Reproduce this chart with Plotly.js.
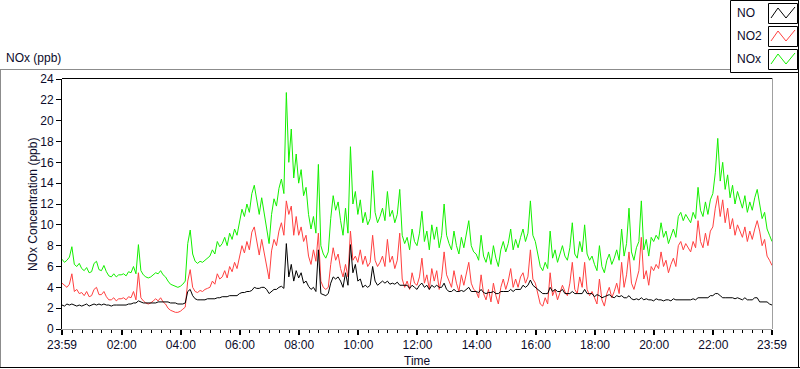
<!DOCTYPE html>
<html>
<head>
<meta charset="utf-8">
<script src="https://cdn.plot.ly/plotly-3.0.1.min.js"></script>
<style>
html,body{margin:0;padding:0;background:#fff;}
#chart{width:800px;height:369px;}
</style>
</head>
<body>
<div id="chart"></div>
<script>
// ---- data (5-minute readings from 23:59 to 23:59 next day) ----
const startTime = '2024-01-01T23:59:00';
const stepMinutes = 5;

const noxValues = [
 6.7, 6.4, 6.6, 6.9, 7.9, 6.2, 6.0, 6.3, 5.8, 5.6, 5.9, 5.4,
 5.5, 6.3, 6.5, 5.7, 5.6, 6.1, 5.5, 5.1, 5.0, 5.3, 5.0, 5.2,
 5.2, 5.3, 5.1, 5.5, 5.4, 6.0, 5.3, 8.1, 5.6, 5.2, 5.0, 4.9,
 5.0, 5.2, 5.4, 5.3, 5.6, 5.2, 5.0, 4.6, 4.3, 4.2, 4.1, 4.0,
 4.1, 4.3, 4.6, 8.2, 9.5, 7.2, 6.5, 6.3, 6.5, 6.4, 6.6, 6.8,
 7.0, 7.6, 7.2, 8.4, 7.9, 8.2, 8.8, 8.0, 9.2, 8.6, 9.6, 9.0,
 10.4, 11.5, 10.8, 12.0, 11.2, 13.0, 13.8, 12.4, 11.0, 12.6, 11.2, 9.6,
 8.2, 11.0, 12.5, 11.8, 13.5, 14.4, 13.0, 22.7, 16.0, 19.2, 14.5, 16.8,
 14.0, 15.3, 12.8, 13.6, 11.0, 9.6, 10.8, 9.2, 15.8, 8.0, 7.2, 6.8,
 7.4, 10.6, 12.8, 11.4, 12.2, 10.4, 9.0, 11.6, 9.2, 17.5, 12.0, 13.2,
 11.0, 12.4, 10.2, 11.2, 10.0, 10.6, 15.2, 11.2, 10.2, 10.8, 11.6, 10.4,
 13.2, 10.8, 11.4, 10.2, 11.0, 13.4, 9.0, 8.2, 8.8, 7.6, 9.6, 8.4,
 8.0, 9.2, 11.3, 8.4, 9.4, 7.6, 10.0, 8.6, 9.8, 7.8, 9.0, 12.0,
 9.0, 8.2, 7.6, 9.4, 8.0, 7.2, 8.8, 7.8, 9.2, 10.4, 8.0, 7.4,
 7.2, 6.6, 9.0, 7.0, 6.4, 7.4, 6.2, 8.0, 6.8, 6.0, 7.6, 8.4,
 7.4, 8.2, 9.6, 7.6, 8.6, 7.8, 8.8, 9.6, 8.4, 9.2, 12.3, 9.0,
 8.4, 7.2, 6.0, 5.6, 6.4, 5.8, 9.4, 6.8, 7.6, 6.4, 7.2, 8.0,
 7.0, 6.6, 7.8, 10.2, 7.2, 6.8, 8.4, 7.4, 10.0, 7.2, 6.6, 7.0,
 6.2, 5.6, 8.0, 6.0, 5.4, 6.6, 7.2, 6.2, 6.8, 7.6, 6.6, 9.6,
 7.0, 8.2, 11.6, 7.4, 6.6, 7.8, 8.4, 12.3, 7.6, 8.6, 7.0, 8.8,
 8.4, 9.0, 8.6, 10.2, 8.8, 9.4, 8.2, 9.0, 9.6, 8.8, 10.8, 11.2,
 10.4, 11.0, 10.6, 10.2, 11.2, 10.6, 13.6, 11.4, 10.8, 12.2, 11.0, 12.4,
 13.0, 15.0, 18.3, 14.2, 16.0, 13.4, 14.8, 12.6, 13.8, 12.0, 13.2, 12.4,
 11.6, 12.8, 11.2, 12.2, 11.4, 12.6, 13.4, 12.0, 10.6, 11.2, 9.6, 9.0, 8.4
];

const no2Values = [
 4.4, 4.2, 4.0, 4.3, 5.3, 3.6, 3.8, 3.4, 3.5, 3.2, 3.6, 3.1,
 3.2, 3.8, 4.0, 3.3, 3.3, 3.6, 3.1, 2.8, 2.8, 3.0, 2.7, 2.9,
 2.9, 3.0, 2.8, 3.1, 3.0, 3.6, 2.8, 5.4, 3.0, 2.7, 2.5, 2.4,
 2.5, 2.7, 2.9, 2.7, 3.0, 2.6, 2.4, 2.0, 1.8, 1.7, 1.6, 1.6,
 1.7, 1.9, 2.1, 4.6, 5.7, 4.0, 3.6, 3.5, 3.7, 3.6, 3.8, 3.9,
 4.0, 4.6, 4.3, 5.3, 4.8, 5.0, 5.6, 4.9, 6.0, 5.5, 6.4, 5.8,
 7.0, 8.0, 7.3, 8.4, 7.6, 9.3, 9.8, 8.5, 7.1, 8.6, 7.2, 5.8,
 4.8, 7.5, 8.6, 8.0, 9.4, 10.2, 9.0, 12.3, 11.0, 11.8, 9.0, 10.8,
 9.0, 9.8, 8.4, 9.0, 7.0, 6.2, 7.6, 6.5, 9.2, 4.6, 4.0, 3.8,
 4.0, 6.2, 7.8, 6.6, 7.2, 5.8, 5.0, 6.2, 5.0, 9.4, 6.6, 7.0,
 6.4, 7.6, 6.2, 7.0, 6.0, 6.4, 9.0, 6.6, 6.0, 6.4, 7.0, 6.0,
 8.6, 6.4, 7.0, 5.8, 6.6, 9.2, 4.8, 4.0, 4.6, 3.8, 5.4, 4.4,
 4.2, 5.0, 6.8, 4.4, 5.2, 3.8, 5.8, 4.6, 5.6, 3.8, 5.0, 7.4,
 5.2, 4.6, 4.0, 5.6, 4.4, 3.6, 5.2, 4.2, 5.4, 6.4, 4.4, 3.8,
 3.6, 3.0, 5.2, 3.4, 2.8, 3.8, 2.6, 4.4, 3.2, 2.4, 4.0, 4.8,
 3.8, 4.6, 5.8, 4.0, 4.8, 4.0, 5.0, 5.4, 4.4, 5.0, 7.6, 4.8,
 4.4, 3.4, 2.4, 2.2, 3.0, 2.4, 5.4, 3.2, 3.8, 2.8, 3.6, 4.2,
 3.6, 3.2, 4.4, 6.4, 3.8, 3.4, 5.0, 4.0, 6.4, 3.8, 3.2, 3.6,
 3.0, 2.4, 4.8, 2.8, 2.2, 3.4, 4.0, 3.0, 3.6, 4.4, 3.4, 6.4,
 4.0, 5.2, 7.4, 4.4, 3.8, 4.8, 5.6, 8.8, 4.8, 5.6, 4.2, 6.0,
 5.6, 6.2, 5.8, 7.4, 6.0, 6.6, 5.4, 6.2, 6.8, 6.0, 8.0, 8.4,
 7.6, 8.2, 7.8, 7.4, 8.4, 7.8, 10.4, 8.4, 7.8, 9.2, 8.0, 9.4,
 9.8, 11.6, 12.8, 10.8, 12.4, 10.2, 11.6, 9.6, 10.6, 9.0, 10.0, 9.4,
 8.8, 9.8, 8.4, 9.4, 8.6, 9.6, 10.4, 9.4, 8.0, 8.6, 7.0, 6.6, 6.1
];

const noValues = [
 2.3, 2.2, 2.4, 2.3, 2.4, 2.3, 2.2, 2.3, 2.2, 2.3, 2.4, 2.2,
 2.3, 2.4, 2.3, 2.4, 2.3, 2.4, 2.3, 2.3, 2.2, 2.3, 2.3, 2.3,
 2.3, 2.3, 2.3, 2.4, 2.4, 2.5, 2.5, 2.7, 2.6, 2.5, 2.5, 2.5,
 2.5, 2.5, 2.5, 2.6, 2.6, 2.6, 2.6, 2.6, 2.5, 2.5, 2.5, 2.4,
 2.4, 2.4, 2.5, 3.6, 3.8, 3.2, 2.9, 2.8, 2.8, 2.8, 2.8, 2.9,
 2.9, 2.9, 2.9, 3.0, 3.0, 3.1, 3.1, 3.1, 3.2, 3.2, 3.2, 3.2,
 3.4, 3.5, 3.5, 3.6, 3.6, 3.7, 4.0, 3.9, 3.9, 4.0, 4.0, 3.8,
 3.4, 3.6, 3.8, 3.8, 4.0, 4.1, 3.9, 8.2, 5.0, 6.2, 4.6, 5.6,
 4.9, 5.4, 4.4, 4.6, 4.1, 3.8, 4.0, 3.6, 7.6, 3.4, 3.3, 3.2,
 3.4, 4.4, 5.0, 4.8, 5.0, 4.6, 4.0, 5.4, 4.2, 8.1, 5.4, 6.2,
 4.6, 4.8, 4.0, 4.2, 4.0, 4.2, 6.0, 4.6, 4.2, 4.4, 4.6, 4.4,
 4.6, 4.3, 4.4, 4.3, 4.5, 4.2, 4.2, 4.2, 4.2, 3.9, 4.2, 4.0,
 3.8, 4.2, 4.4, 4.0, 4.2, 3.8, 4.2, 4.0, 4.2, 4.0, 4.0, 4.4,
 3.8, 3.6, 3.6, 3.8, 3.6, 3.6, 3.7, 3.6, 3.8, 4.0, 3.6, 3.6,
 3.6, 3.5, 3.8, 3.5, 3.4, 3.5, 3.5, 3.6, 3.4, 3.4, 3.6, 3.6,
 3.6, 3.6, 3.8, 3.6, 3.8, 3.8, 3.8, 4.2, 4.0, 4.2, 4.7, 4.2,
 4.0, 3.8, 3.6, 3.4, 3.4, 3.4, 4.0, 3.6, 3.8, 3.6, 3.6, 3.8,
 3.4, 3.4, 3.4, 3.6, 3.4, 3.4, 3.4, 3.4, 3.8, 3.4, 3.4, 3.4,
 3.1, 3.3, 3.2, 3.0, 3.1, 3.2, 3.3, 3.1, 3.0, 3.2, 3.1, 3.2,
 3.0, 3.0, 3.2, 2.9, 2.8, 2.9, 2.8, 3.0, 2.8, 2.9, 2.8, 2.8,
 2.7, 2.9, 2.8, 2.8, 2.7, 2.8, 2.8, 2.7, 2.9, 2.8, 2.8, 2.8,
 2.8, 2.8, 2.8, 2.8, 2.9, 2.8, 3.0, 3.0, 3.0, 3.0, 3.0, 3.2,
 3.2, 3.4, 3.4, 3.2, 3.0, 3.0, 3.0, 3.0, 3.0, 2.9, 3.0, 2.9,
 2.8, 3.0, 2.8, 2.8, 2.8, 3.0, 3.0, 2.6, 2.6, 2.6, 2.6, 2.4, 2.3
];

const seriesNames = ['NO', 'NO2', 'NOx'];
const majorTickTimes = ['2024-01-01 23:59','2024-01-02 02:00','2024-01-02 04:00','2024-01-02 06:00',
  '2024-01-02 08:00','2024-01-02 10:00','2024-01-02 12:00','2024-01-02 14:00','2024-01-02 16:00',
  '2024-01-02 18:00','2024-01-02 20:00','2024-01-02 22:00','2024-01-02 23:59'];
const majorTickLabels = ['23:59','02:00','04:00','06:00','08:00','10:00','12:00','14:00','16:00',
  '18:00','20:00','22:00','23:59'];

// ---- build time axis ----
function fmt(d){
  const p = n => String(n).padStart(2,'0');
  return d.getUTCFullYear()+'-'+p(d.getUTCMonth()+1)+'-'+p(d.getUTCDate())+' '+p(d.getUTCHours())+':'+p(d.getUTCMinutes());
}
const t0 = Date.parse(startTime + 'Z');
const times = noValues.map((_, i) => fmt(new Date(t0 + i*stepMinutes*60000)));
const minorTicks = [];
const day0 = Date.parse('2024-01-02T00:00:00Z');
for (let m = 20; m < 1440; m += 20) { if (m % 120 !== 0) minorTicks.push(fmt(new Date(day0 + m*60000))); }

// ---- pixel helpers for decorations ----
const W = 800, H = 369, L = 62, R = 772, T = 79, B = 329;
const px = x => (x - L) / (R - L);
const py = y => (B - y) / (B - T);
const textColor = '#0b0b2a';
const fontFam = 'Liberation Sans, Arial, sans-serif';

const traces = [
  {x: times, y: noxValues, name: seriesNames[2], type: 'scatter', mode: 'lines', line: {color: '#14f000', width: 1}},
  {x: times, y: no2Values, name: seriesNames[1], type: 'scatter', mode: 'lines', line: {color: '#ff4040', width: 1}},
  {x: times, y: noValues, name: seriesNames[0], type: 'scatter', mode: 'lines', line: {color: '#000000', width: 1}}
];

function line(x0,y0,x1,y1,color,w){ return {type:'line', xref:'paper', yref:'paper', x0:px(x0), y0:py(y0), x1:px(x1), y1:py(y1), line:{color:color, width:w||1}}; }
function rect(x0,y0,x1,y1){ return {type:'rect', xref:'paper', yref:'paper', x0:px(x0), y0:py(y0), x1:px(x1), y1:py(y1), line:{color:'#000', width:1}, fillcolor:'#fff'}; }
function zig(dy,color){
  const pts = [[771,18],[778,8],[786,18],[795,7]].map(p => px(p[0]) + ',' + py(p[1]+dy));
  return {type:'path', xref:'paper', yref:'paper', path:'M' + pts.join(' L'), line:{color:color, width:1}};
}

const shapes = [
  line(0, 69.5, 731, 69.5, '#8c8c8c'),
  line(0.5, 69.5, 0.5, 367, '#8c8c8c'),
  line(0, 367.5, 800, 367.5, '#000'),
  line(798.5, 0, 798.5, 368, '#000'),
  rect(730.5, 0.5, 798.5, 72.5),
  line(L, T-0.5, R, T-0.5, '#000'),
  line(R+0.5, T-1, R+0.5, B, '#a0a0a0'),
  rect(768.5, 3.5, 797.5, 23.5), zig(0, '#000'),
  rect(768.5, 26.5, 797.5, 46.5), zig(23, '#ff4040'),
  rect(768.5, 49.5, 797.5, 69.5), zig(46, '#14f000')
];

function ann(text, x, y, opts){
  return Object.assign({text: text, xref:'paper', yref:'paper', x: px(x), y: py(y), showarrow:false,
    xanchor:'left', yanchor:'middle', font:{family: fontFam, size:12, color:textColor}}, opts||{});
}
const annotations = [
  ann('NOx (ppb)', 4, 58),
  ann('NOx Concentration (ppb)', 33, 205, {xanchor:'center', textangle:-90}),
  ann('Time', 417, 361, {xanchor:'center'}),
  ann(seriesNames[0], 735, 13),
  ann(seriesNames[1], 735, 36),
  ann(seriesNames[2], 735, 59)
];

const layout = {
  width: W, height: H,
  margin: {l: L, r: W - R, t: T, b: H - B, pad: 0},
  paper_bgcolor: '#fff', plot_bgcolor: '#fff',
  showlegend: false,
  font: {family: fontFam, size: 12, color: textColor},
  xaxis: {
    type: 'date',
    range: [majorTickTimes[0], majorTickTimes[majorTickTimes.length-1]],
    tickmode: 'array', tickvals: majorTickTimes, ticktext: majorTickLabels,
    ticks: 'outside', ticklen: 5, tickwidth: 2, tickcolor: '#000',
    minor: {tickmode: 'array', tickvals: minorTicks, ticks: 'outside', ticklen: 3, tickwidth: 1, tickcolor: '#000', showgrid: false},
    showgrid: false, zeroline: false, showline: true, linecolor: '#a0a0a0', linewidth: 1,
    tickfont: {family: fontFam, size: 12, color: textColor},
    fixedrange: true
  },
  yaxis: {
    range: [0, 24], dtick: 2, tick0: 0,
    ticks: 'outside', ticklen: 5, tickwidth: 1, tickcolor: '#000',
    showgrid: false, zeroline: false, showline: true, linecolor: '#000', linewidth: 1,
    tickfont: {family: fontFam, size: 12, color: textColor},
    fixedrange: true
  },
  shapes: shapes,
  annotations: annotations
};

Plotly.newPlot('chart', traces, layout, {displayModeBar: false, staticPlot: true});
</script>
</body>
</html>
